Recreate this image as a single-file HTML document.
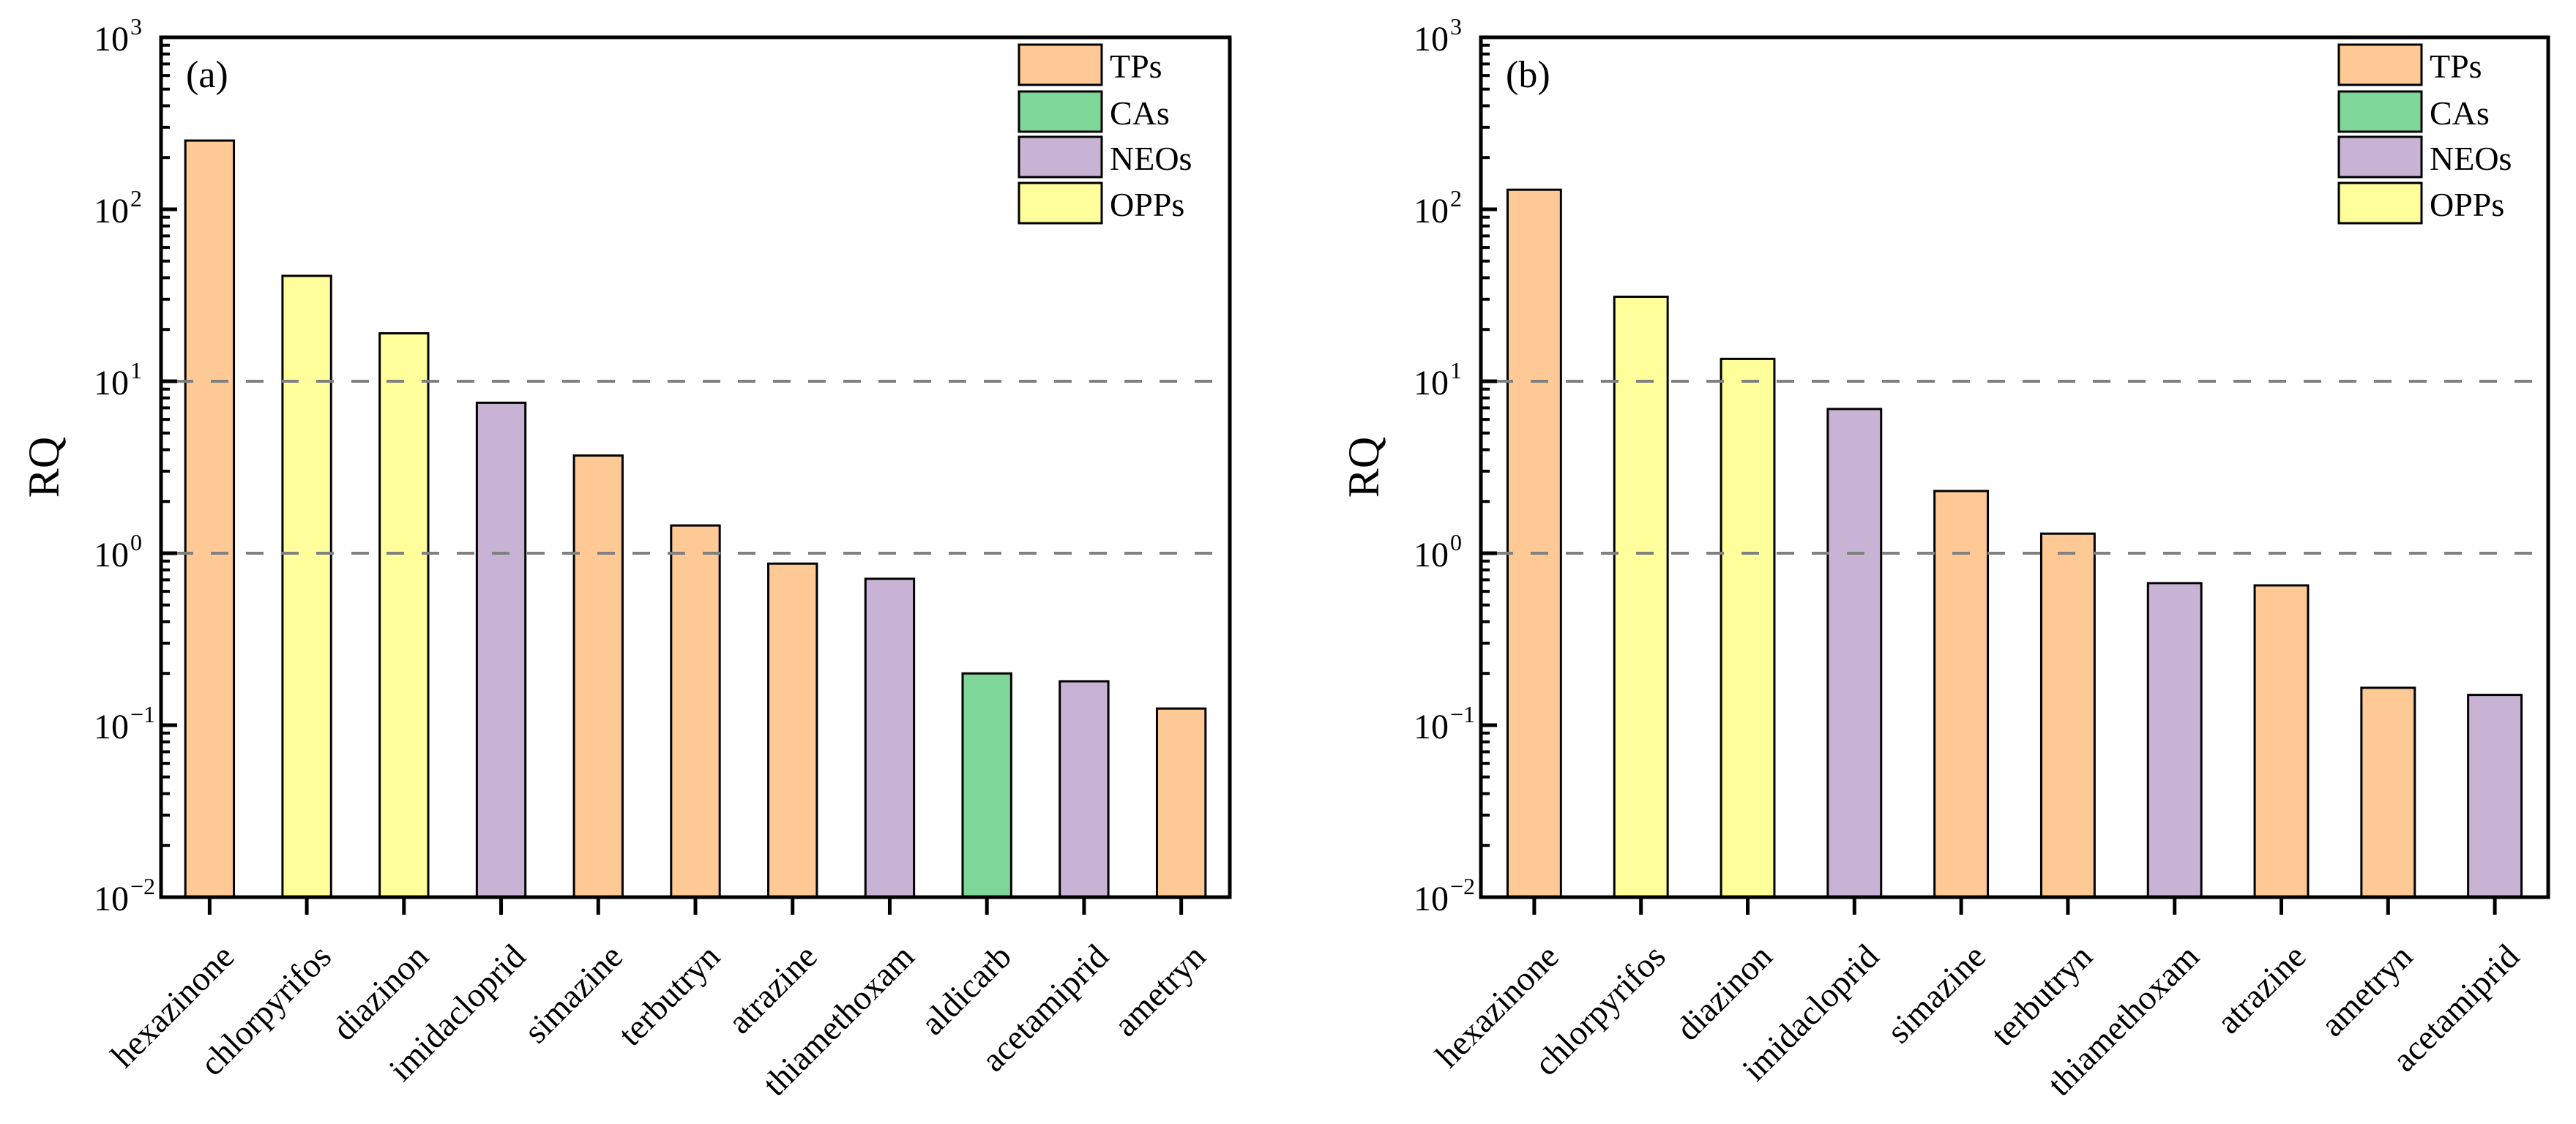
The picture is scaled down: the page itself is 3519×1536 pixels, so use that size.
<!DOCTYPE html>
<html><head><meta charset="utf-8"><style>
html,body{margin:0;padding:0;background:#fff;}
svg{display:block;font-family:"Liberation Serif",serif;}
</style></head><body>
<svg id="chart" width="3519" height="1536" viewBox="0 0 3519 1536" xmlns="http://www.w3.org/2000/svg"></svg>
<script>
const categoriesA = ["hexazinone","chlorpyrifos","diazinon","imidacloprid","simazine","terbutryn","atrazine","thiamethoxam","aldicarb","acetamiprid","ametryn"];
const valuesA = [251, 41, 19, 7.5, 3.7, 1.45, 0.87, 0.71, 0.2, 0.18, 0.125];
const groupsA = ["TPs","OPPs","OPPs","NEOs","TPs","TPs","TPs","NEOs","CAs","NEOs","TPs"];
const categoriesB = ["hexazinone","chlorpyrifos","diazinon","imidacloprid","simazine","terbutryn","thiamethoxam","atrazine","ametryn","acetamiprid"];
const valuesB = [130, 31, 13.5, 6.9, 2.3, 1.3, 0.67, 0.65, 0.165, 0.15];
const groupsB = ["TPs","OPPs","OPPs","NEOs","TPs","TPs","NEOs","TPs","TPs","NEOs"];
const legendLabels = ["TPs","CAs","NEOs","OPPs"];
const groupColors = {TPs:"#FEC994",CAs:"#7FD699",NEOs:"#C8B3D5",OPPs:"#FEFE9A"};
const tickExponents = [-2,-1,0,1,2,3];
const thresholds = [1,10];

const NS="http://www.w3.org/2000/svg";
const svg=document.getElementById('chart');
function mk(tag,attrs,parent){const e=document.createElementNS(NS,tag);for(const k in attrs)e.setAttribute(k,attrs[k]);(parent||svg).appendChild(e);return e;}

function panel(opts){
  const {x0,x1,y0,y1,cats,vals,groups,tag,key}=opts;
  const g=mk('g',{});
  
  
  const yMin=-2,yMax=3;
  const yScale=v=>y1-(Math.log10(v)-yMin)/(yMax-yMin)*(y1-y0);
  const step=(x1-x0)/cats.length;
  const xScale=i=>x0+step*(i+0.5);
  const bw=step*0.5;
  cats.forEach((c,i)=>{
    const yt=yScale(vals[i]);
    const r=mk('rect',{x:xScale(i)-bw/2,y:yt,width:bw,height:y1-yt,fill:groupColors[groups[i]],stroke:'#000','stroke-width':3},g);
    
    
  });
  thresholds.forEach(t=>{
    const l=mk('line',{x1:x0+20,x2:x1,y1:yScale(t),y2:yScale(t),stroke:'#808080','stroke-width':4,'stroke-dasharray':'24 24'},g);
    
    
  });
  const f=mk('rect',{x:x0,y:y0,width:x1-x0,height:y1-y0,fill:'none',stroke:'#000','stroke-width':5},g);
  
  
  tickExponents.forEach(e=>{
    const y=yScale(Math.pow(10,e));
    mk('line',{x1:x0,x2:x0+22,y1:y,y2:y,stroke:'#000','stroke-width':5},g);
    const t=mk('text',{x:x0-44,y:y+18,'text-anchor':'end','font-size':48},g);
    
    
    t.textContent='10';
    const s=mk('text',{x:x0-42,y:y-4,'text-anchor':'start','font-size':32},g);
    s.textContent=(e<0?'\u2212':'')+Math.abs(e);
    if(e<yMax){for(let m=2;m<=9;m++){const ym=yScale(m*Math.pow(10,e));mk('line',{x1:x0,x2:x0+12,y1:ym,y2:ym,stroke:'#000','stroke-width':4},g);}}
  });
  cats.forEach((c,i)=>{
    const x=xScale(i);
    mk('line',{x1:x,x2:x,y1:y1,y2:y1+24,stroke:'#000','stroke-width':5},g);
    const bx=x+36,by=y1+84;
    const t=mk('text',{x:bx,y:by,'text-anchor':'end','font-size':47,transform:`rotate(-45 ${bx} ${by})`},g);
    
    
    t.textContent=c;
  });
  const yx=x0-140, yy=(y0+y1)/2;
  const yt=mk('text',{x:yx,y:yy,'text-anchor':'middle','font-size':60,transform:`rotate(-90 ${yx} ${yy})`},g);
  
  
  yt.textContent='RQ';
  const pt=mk('text',{x:x0+34,y:y0+68,'font-size':52},g);
  
  
  pt.textContent=tag;
  const lx=x0+1172, ly=[61,125,187,250];
  legendLabels.forEach((lab,i)=>{
    const le=mk('g',{},g);
    
    
    mk('rect',{x:lx,y:ly[i],width:113,height:55,fill:groupColors[lab],stroke:'#000','stroke-width':3},le);
    const t=mk('text',{x:lx+124,y:ly[i]+45,'font-size':46},le);
    t.textContent=lab;
  });
}
panel({x0:220,x1:1680,y0:51,y1:1226,cats:categoriesA,vals:valuesA,groups:groupsA,tag:'(a)',key:'a'});
panel({x0:2023,x1:3481,y0:51,y1:1226,cats:categoriesB,vals:valuesB,groups:groupsB,tag:'(b)',key:'b'});
</script>
</body></html>
